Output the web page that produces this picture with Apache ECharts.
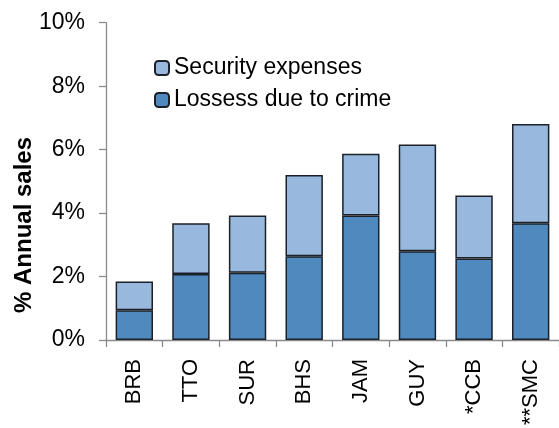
<!DOCTYPE html>
<html>
<head>
<meta charset="utf-8">
<script src="https://cdn.jsdelivr.net/npm/echarts@6/dist/echarts.min.js"></script>
<style>
  html, body { margin: 0; padding: 0; background: #fff; }
  #chart { width: 559px; height: 428px; }
</style>
</head>
<body>
<div id="chart"></div>
<script>
// Country codes along the x axis
const categories = ['BRB', 'TTO', 'SUR', 'BHS', 'JAM', 'GUY', '*CCB', '**SMC'];
// Losses due to crime, % of annual sales (lower segment)
const losses = [0.94, 2.08, 2.12, 2.64, 3.92, 2.80, 2.57, 3.68];
// Security expenses, % of annual sales (upper segment)
const security = [0.90, 1.60, 1.80, 2.56, 1.95, 3.36, 1.98, 3.13];
// Y axis ticks
const yTicks = { min: 0, max: 10, interval: 2 };

const font = 'Liberation Sans, Arial, sans-serif';
const edge = '#1b2029';

const chart = echarts.init(document.getElementById('chart'), null, { renderer: 'canvas' });
chart.setOption({
  animation: false,
  backgroundColor: '#ffffff',
  grid: { left: 106, top: 22.7, width: 461.6, height: 320.6, containLabel: false },
  legend: {
    orient: 'vertical',
    left: 154,
    top: 56,
    padding: 0,
    itemWidth: 14,
    itemHeight: 14,
    itemGap: 8,
    data: ['Security expenses', 'Lossess due to crime'],
    textStyle: { fontFamily: font, fontSize: 23, lineHeight: 24, color: '#000' }
  },
  graphic: [{
    type: 'text',
    x: 24, y: 225,
    rotation: Math.PI / 2,
    style: {
      text: '% Annual sales',
      font: 'bold 24px ' + font,
      fill: '#000',
      align: 'center',
      verticalAlign: 'middle'
    }
  }],
  xAxis: {
    type: 'category',
    data: categories,
    axisLine: { lineStyle: { color: '#8a8a8a', width: 1.3 } },
    axisTick: { show: true, length: 7, lineStyle: { color: '#8a8a8a', width: 1.3 } },
    axisLabel: {
      rotate: 90, margin: 19, interval: 0,
      fontFamily: font, fontSize: 22, color: '#000'
    }
  },
  yAxis: {
    type: 'value',
    min: yTicks.min, max: yTicks.max, interval: yTicks.interval,
    splitLine: { show: false },
    axisLine: { show: true, lineStyle: { color: '#8a8a8a', width: 1.3 } },
    axisTick: { show: true, length: 7, lineStyle: { color: '#8a8a8a', width: 1.3 } },
    axisLabel: {
      formatter: '{value}%', margin: 21,
      fontFamily: font, fontSize: 23, color: '#000'
    }
  },
  series: [
    {
      name: 'Lossess due to crime',
      type: 'bar',
      stack: 'total',
      barWidth: '66%',
      data: losses,
      itemStyle: { color: '#4f89bd', borderColor: edge, borderWidth: 1.5 }
    },
    {
      name: 'Security expenses',
      type: 'bar',
      stack: 'total',
      barWidth: '66%',
      data: security,
      itemStyle: { color: '#98b8de', borderColor: edge, borderWidth: 1.5 }
    }
  ]
});
</script>
</body>
</html>
